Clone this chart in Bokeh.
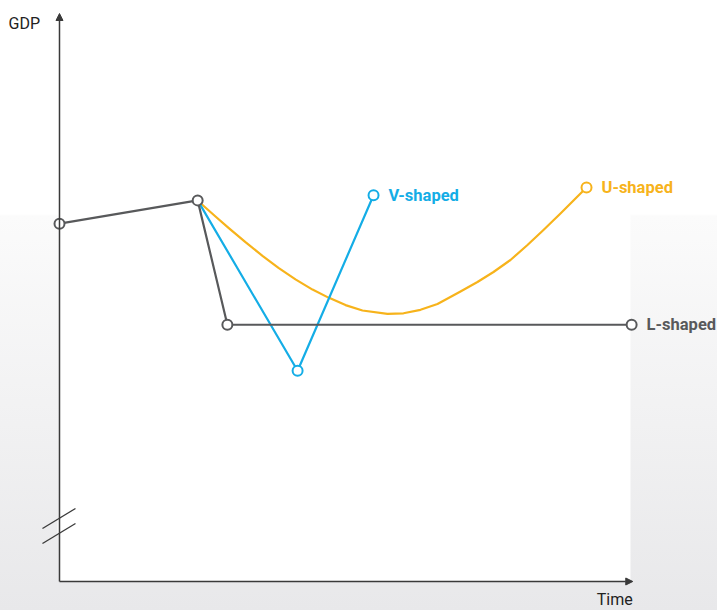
from bokeh.plotting import figure
from bokeh.models import Range1d, Arrow, NormalHead, ColumnDataSource
from bokeh.core.properties import value
from bokeh.embed import file_html
from bokeh.resources import INLINE

# ---- data (time units, GDP index units) ----
pre_x = [0.0, 24.2]
pre_y = [63.0, 67.1]

l_x = [24.2, 29.4, 100.2]
l_y = [67.1, 45.2, 45.2]

v_x = [24.2, 41.7, 55.0]
v_y = [67.1, 37.1, 68.0]

u_x = [24.17, 27.32, 29.60, 32.57, 35.55, 38.35, 41.33, 44.31, 47.11, 50.09, 53.06, 57.44,
       60.25, 63.22, 66.20, 70.23, 73.20, 76.01, 78.98, 81.96, 84.76, 87.74, 90.02, 92.30]
u_y = [67.08, 64.26, 62.27, 59.74, 57.34, 55.23, 53.19, 51.39, 49.98, 48.66, 47.71, 47.13,
       47.22, 47.83, 48.86, 51.06, 52.73, 54.49, 56.60, 59.24, 61.88, 64.79, 67.08, 69.37]

labels = ["L-shaped", "V-shaped", "U-shaped"]
label_colors = ["#58595b", "#14ade6", "#f7b31b"]

axis_x_end = 100.4
axis_y_end = 100.0
plot_area_right = 100.0

break1_x = [-2.98, 2.80]
break1_y = [9.33, 12.85]
break2_x = [-2.98, 2.80]
break2_y = [6.69, 10.21]

GRAY, BLUE, ORANGE = label_colors[0], label_colors[1], label_colors[2]
AXIS = "#3a3a3a"
FONT = "Roboto"

p = figure(width=717, height=610, output_backend="svg", toolbar_location=None,
           x_range=Range1d(-10.333, 115.24), y_range=Range1d(-5.106, 102.29),
           min_border=0, x_axis_location=None, y_axis_location=None,
           tools="")
p.grid.visible = False
p.outline_line_color = None
p.background_fill_alpha = 0
p.border_fill_alpha = 0

# white plot area
p.quad(left=[0], right=[plot_area_right], bottom=[0], top=[102.29],
       fill_color="white", line_color=None)

# axes with arrow heads
p.add_layout(Arrow(end=NormalHead(size=7, fill_color=AXIS, line_color=AXIS, line_width=1),
                   x_start=0, y_start=0, x_end=0, y_end=axis_y_end,
                   line_color=AXIS, line_width=1.5))
p.add_layout(Arrow(end=NormalHead(size=7, fill_color=AXIS, line_color=AXIS, line_width=1),
                   x_start=0, y_start=0, x_end=axis_x_end, y_end=0,
                   line_color=AXIS, line_width=1.5))

# axis break
p.quad(left=[-0.35], right=[0.35], bottom=[8.5], top=[11.14],
       fill_color="white", line_color=None)
p.line(break1_x, break1_y, line_color=AXIS, line_width=1.3)
p.line(break2_x, break2_y, line_color=AXIS, line_width=1.3)

# series lines
p.line(u_x, u_y, line_color=ORANGE, line_width=2.2, line_join="round")
p.line(v_x, v_y, line_color=BLUE, line_width=2.2)
p.line(pre_x, pre_y, line_color=GRAY, line_width=2.2)
p.line(l_x, l_y, line_color=GRAY, line_width=2.2)

# markers
p.scatter(u_x[-1:], u_y[-1:], size=10, fill_color="white", line_color=ORANGE, line_width=2)
p.scatter(v_x[1:], v_y[1:], size=10, fill_color="white", line_color=BLUE, line_width=2)
p.scatter(pre_x + l_x[1:], pre_y + l_y[1:], size=10, fill_color="white",
          line_color=GRAY, line_width=2)

# series labels
lab_src = ColumnDataSource(dict(x=[l_x[-1], v_x[-1], u_x[-1]],
                                y=[l_y[-1], v_y[-1], u_y[-1]],
                                t=labels, c=label_colors))
p.text(x="x", y="y", text="t", text_color="c", source=lab_src, x_offset=15,
       text_baseline="middle", text_align="left", text_font=value(FONT),
       text_font_size="16.5px", text_font_style="bold")

# axis titles
p.text(x=[-8.93], y=[98.2], text=["GDP"], text_color="#222222", text_font=value(FONT),
       text_font_size="16px", text_baseline="alphabetic", text_align="left")
p.text(x=[axis_x_end], y=[-3.17], text=["Time"], text_color="#222222", text_font=value(FONT),
       text_font_size="16px", text_baseline="alphabetic", text_align="right")

html = file_html(p, INLINE)
style = ("<style>html{min-height:100%;background:linear-gradient(to bottom,#ffffff 0px,"
         "#ffffff 214px,#fbfbfb 216px,#e8e8ea 610px) no-repeat;}"
         "body{background:transparent;margin:0;overflow:hidden;}</style>")
html = html.replace("</head>", style + "</head>", 1)
open("out.html", "w").write(html)
